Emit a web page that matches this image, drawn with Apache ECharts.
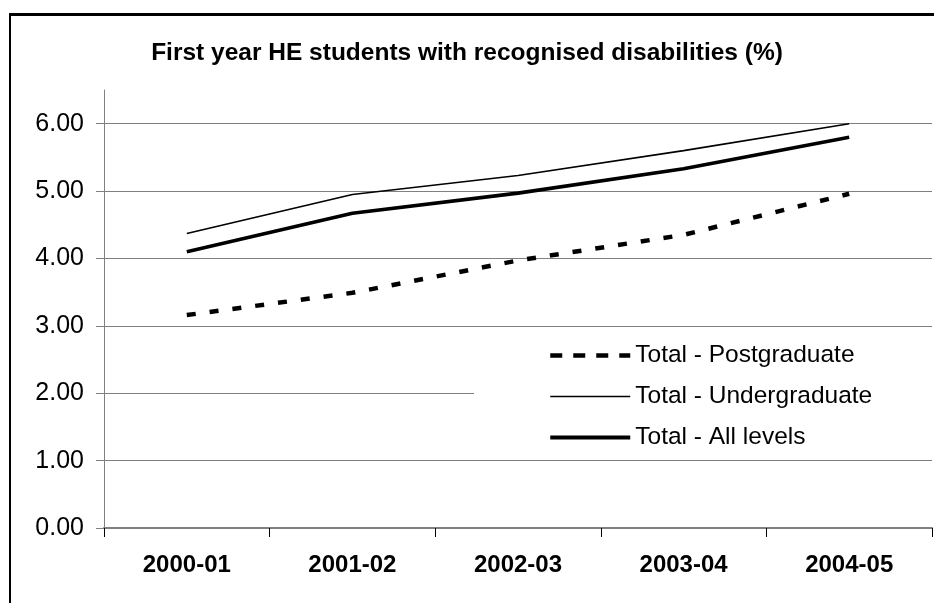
<!DOCTYPE html>
<html>
<head>
<meta charset="utf-8">
<script src="https://cdn.jsdelivr.net/npm/echarts@6/dist/echarts.min.js"></script>
<style>
  html, body { margin: 0; padding: 0; background: #fff; }
  #frame { position: absolute; left: 9px; top: 13px; width: 1000px; height: 1000px;
           border-left: 2px solid #000; border-top: 3px solid #000; }
  #chart { position: absolute; left: 0; top: 0; width: 934px; height: 603px; }
</style>
</head>
<body>
<div id="frame"></div>
<div id="chart"></div>
<script>
// Academic years on the category axis
const years = ['2000-01', '2001-02', '2002-03', '2003-04', '2004-05'];

// Share of first-year students with a recognised disability (%)
const postgraduate  = [3.16, 3.49, 3.97, 4.35, 4.96];
const undergraduate = [4.37, 4.95, 5.23, 5.60, 6.00];
const allLevels     = [4.10, 4.67, 4.97, 5.33, 5.80];

// Value axis: ticks and labels at whole numbers, axis runs a little past the top tick
const yTicks = [0, 1, 2, 3, 4, 5, 6];
const yMax = 6.5;

const chart = echarts.init(document.getElementById('chart'), null, { renderer: 'canvas' });

const black = '#000000';
const grey = '#808080';
const font = 'Liberation Sans, Arial, sans-serif';

chart.setOption({
  backgroundColor: 'transparent',
  animation: false,
  title: {
    text: 'First year HE students with recognised disabilities (%)',
    left: 'center',
    top: 36,
    textStyle: { fontFamily: font, fontSize: 24.5, fontWeight: 'bold', color: black }
  },
  grid: { left: 104, right: 2, top: 90, bottom: 75, containLabel: false },
  xAxis: {
    type: 'category',
    data: years,
    boundaryGap: true,
    axisLine: { lineStyle: { color: grey, width: 2 } },
    axisTick: { show: true, length: 9, lineStyle: { color: black, width: 1 } },
    axisLabel: { fontFamily: font, fontSize: 24, fontWeight: 'bold', color: black, margin: 25 },
    splitLine: { show: false }
  },
  yAxis: {
    type: 'value',
    min: 0,
    max: yMax,
    interval: 1,
    axisLine: { show: true, lineStyle: { color: grey, width: 1 } },
    axisTick: { show: true, length: 8, customValues: yTicks, lineStyle: { color: grey, width: 1 } },
    axisLabel: {
      customValues: yTicks,
      fontFamily: font, fontSize: 25, color: black, margin: 20,
      formatter: v => v.toFixed(2)
    },
    splitLine: { show: true, lineStyle: { color: grey, width: 1 } }
  },
  legend: {
    orient: 'vertical',
    left: 474,
    top: 333,
    padding: [10, 80, 8, 74],
    backgroundColor: '#ffffff',
    itemWidth: 80,
    itemHeight: 24,
    itemGap: 16,
    selectedMode: false,
    itemStyle: { opacity: 0 },
    textStyle: { fontFamily: font, fontSize: 24.5, color: black, lineHeight: 24 },
    data: [
      { name: 'Total - Postgraduate', lineStyle: { width: 4.5, type: [12, 11], cap: 'butt' } },
      { name: 'Total - Undergraduate', lineStyle: { width: 1.6 } },
      { name: 'Total - All levels', lineStyle: { width: 4 } }
    ]
  },
  series: [
    {
      name: 'Total - Postgraduate',
      type: 'line',
      data: postgraduate,
      symbol: 'none',
      lineStyle: { color: black, width: 4.5, type: [9, 14], cap: 'butt' },
      itemStyle: { color: black }
    },
    {
      name: 'Total - Undergraduate',
      type: 'line',
      data: undergraduate,
      symbol: 'none',
      lineStyle: { color: black, width: 1.6 },
      itemStyle: { color: black }
    },
    {
      name: 'Total - All levels',
      type: 'line',
      data: allLevels,
      symbol: 'none',
      lineStyle: { color: black, width: 3.6 },
      itemStyle: { color: black }
    }
  ]
});
</script>
</body>
</html>
